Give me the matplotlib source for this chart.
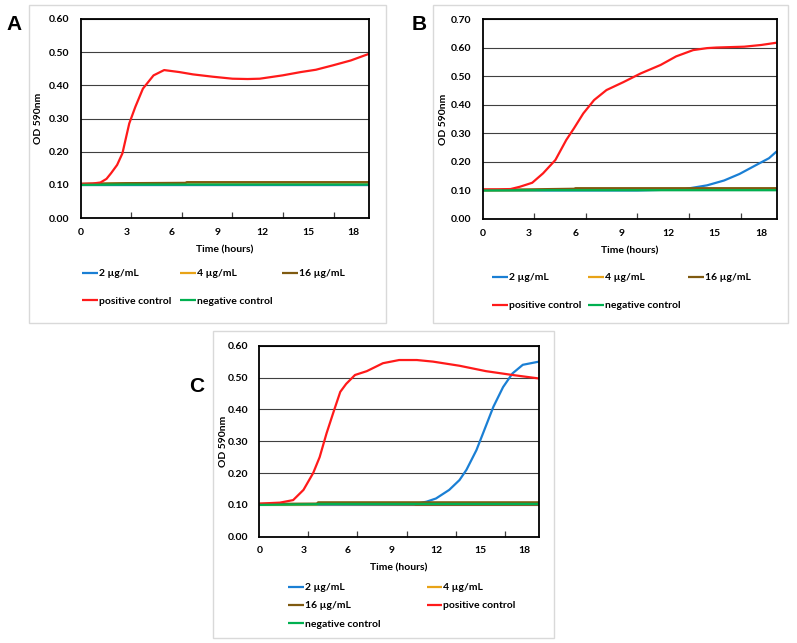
import matplotlib
matplotlib.use("Agg")
import matplotlib.pyplot as plt
from matplotlib.patches import Rectangle
import numpy as np

plt.rcParams["font.family"] = ["Lato", "DejaVu Sans"]
plt.rcParams["font.weight"] = "bold"

LABELS = ["2 \u00b5g/mL", "4 \u00b5g/mL", "16 \u00b5g/mL", "positive control", "negative control"]
COLORS = ["#1a7fd4", "#e8a317", "#7f5a10", "#ff1a1a", "#00b050"]

# ---- panel A ----
a_pos_t = [0, 0.8, 1.3, 1.7, 2.0, 2.4, 2.75, 3.2, 3.6, 4.1, 4.8, 5.5, 6.5, 7.4, 8.7, 10.0, 11.0, 11.8, 13.3, 14.5, 15.5, 16.6, 17.8, 19.0]
a_pos_y = [0.103, 0.104, 0.107, 0.118, 0.135, 0.16, 0.195, 0.285, 0.335, 0.39, 0.43, 0.446, 0.44, 0.433, 0.426, 0.42, 0.419, 0.42, 0.43, 0.44, 0.447, 0.46, 0.475, 0.495]
a_t = [0, 3, 6.9, 7.0, 12, 19]
a_2 = [0.100, 0.100, 0.100, 0.100, 0.100, 0.100]
a_4 = [0.102, 0.104, 0.105, 0.107, 0.107, 0.107]
a_16 = [0.103, 0.105, 0.106, 0.108, 0.108, 0.108]
a_neg = [0.100, 0.101, 0.101, 0.101, 0.101, 0.101]

# ---- panel B ----
b_pos_t = [0, 1.0, 1.8, 2.4, 3.2, 3.9, 4.7, 5.4, 5.9, 6.5, 7.2, 8.0, 9.1, 10.2, 11.5, 12.5, 13.6, 14.5, 15.1, 16.9, 18.0, 19.0]
b_pos_y = [0.104, 0.104, 0.105, 0.113, 0.127, 0.16, 0.207, 0.277, 0.318, 0.37, 0.417, 0.452, 0.48, 0.51, 0.54, 0.57, 0.592, 0.599, 0.601, 0.604, 0.61, 0.618]
b_2_t = [0, 5, 10, 13.0, 13.4, 14.5, 15.6, 16.6, 17.7, 18.5, 19.0]
b_2_y = [0.100, 0.100, 0.100, 0.104, 0.108, 0.118, 0.135, 0.158, 0.19, 0.213, 0.237]
b_t = [0, 3.2, 5.9, 6.0, 12, 19]
b_4 = [0.100, 0.101, 0.104, 0.105, 0.105, 0.105]
b_16 = [0.102, 0.104, 0.106, 0.108, 0.108, 0.108]
b_neg = [0.100, 0.101, 0.101, 0.101, 0.101, 0.101]

# ---- panel C ----
c_pos_t = [0, 1.4, 2.3, 3.0, 3.66, 4.1, 4.57, 5.1, 5.5, 5.9, 6.5, 7.3, 8.4, 9.5, 10.7, 11.8, 13.6, 15.4, 17.2, 19.0]
c_pos_y = [0.104, 0.107, 0.115, 0.147, 0.2, 0.25, 0.325, 0.4, 0.455, 0.48, 0.508, 0.52, 0.545, 0.555, 0.555, 0.55, 0.537, 0.52, 0.508, 0.497]
c_2_t = [0, 5, 10.5, 11.36, 12.0, 12.9, 13.6, 14.07, 14.75, 15.2, 15.9, 16.56, 17.2, 17.9, 19.0]
c_2_y = [0.100, 0.100, 0.102, 0.11, 0.12, 0.147, 0.178, 0.21, 0.272, 0.325, 0.408, 0.47, 0.513, 0.54, 0.55]
c_t = [0, 3.9, 4.0, 12, 19]
c_4 = [0.100, 0.101, 0.102, 0.102, 0.102]
c_16 = [0.103, 0.104, 0.108, 0.108, 0.108]
c_neg = [0.100, 0.102, 0.103, 0.103, 0.103]

X_LABELS = [0, 3, 6, 9, 12, 15, 18]
X_TICKS = [3.33, 6.67, 10.0, 13.33, 16.67]

W, H = 797, 643
fig = plt.figure(figsize=(W / 100, H / 100), dpi=100)


def fx(px):
    return px / W


def fy(py):
    return 1 - py / H


# panel frames
for x0, y0, x1, y1 in [(29, 5, 386, 323), (433, 5, 788, 323), (213, 331, 554, 638)]:
    fig.add_artist(Rectangle((fx(x0), fy(y1)), fx(x1) - fx(x0), fy(y0) - fy(y1),
                             transform=fig.transFigure, fill=False, ec="#d9d9d9", lw=1.0))


def panel(rect, series, ymax, letter, letter_xy, ylab_x, leg_xy, ncol, order, leg_space):
    l, t, r, b = rect
    ax = fig.add_axes([fx(l), fy(b), fx(r) - fx(l), fy(t) - fy(b)])
    handles = []
    for (tt, yy), lab, col in zip(series, LABELS, COLORS):
        h, = ax.plot(tt, yy, color=col, lw=1.6, label=lab, solid_capstyle="butt")
        handles.append(h)
    ax.set_xlim(0, 19)
    ax.set_ylim(0, ymax)
    yt = np.arange(0, ymax + 0.001, 0.1)
    ax.set_yticks(yt)
    ax.set_yticklabels([f"{v:.2f}" for v in yt], fontsize=7.5, fontweight="bold")
    ax.tick_params(axis="y", length=0, pad=8)
    ax.yaxis.grid(True, color="#404040", lw=0.8)
    ax.set_axisbelow(True)
    ax.set_xticks(X_TICKS)
    ax.set_xticklabels([])
    ax.tick_params(axis="x", which="major", direction="in", length=4, width=0.9, color="#404040")
    ax.set_xticks(X_LABELS, minor=True)
    ax.set_xticklabels([str(v) for v in X_LABELS], minor=True, fontsize=7.5, fontweight="bold")
    ax.tick_params(axis="x", which="minor", length=0, pad=7)
    for s in ax.spines.values():
        s.set_color("black")
        s.set_linewidth(1.3)
    ax.set_xlabel("Time (hours)", fontsize=7.5, fontweight="bold", labelpad=6)
    ax.set_ylabel("OD 590nm", fontsize=7.5, fontweight="bold")
    ax.yaxis.set_label_coords((fx(ylab_x) - fx(l)) / (fx(r) - fx(l)), 0.5)
    fig.text(fx(letter_xy[0]), fy(letter_xy[1]), letter, fontsize=15, fontweight="bold",
             family=["Liberation Sans", "DejaVu Sans"], ha="center", va="center")
    hs = [handles[i] for i in order]
    ls = [LABELS[i] for i in order]
    fig.legend(hs, ls, loc="upper left", bbox_to_anchor=(fx(leg_xy[0]), fy(leg_xy[1])),
               ncol=ncol, frameon=False, handlelength=1.5, handletextpad=0.1,
               columnspacing=leg_space[0], labelspacing=leg_space[1], borderaxespad=0,
               borderpad=0, prop={"weight": "bold", "size": 7.5})
    return ax


panel((80.7, 19, 369, 218),
      [(a_t, a_2), (a_t, a_4), (a_t, a_16), (a_pos_t, a_pos_y), (a_t, a_neg)],
      0.6, "A", (14, 25), 43, (82, 269), 3, [0, 3, 1, 4, 2], (0.9, 1.75))

panel((482.7, 19.3, 776.7, 219),
      [(b_2_t, b_2_y), (b_t, b_4), (b_t, b_16), (b_pos_t, b_pos_y), (b_t, b_neg)],
      0.7, "B", (419, 24), 448, (492, 273), 3, [0, 3, 1, 4, 2], (0.7, 1.8))

panel((259.3, 345.7, 539, 536.7),
      [(c_2_t, c_2_y), (c_t, c_4), (c_t, c_16), (c_pos_t, c_pos_y), (c_t, c_neg)],
      0.6, "C", (197, 386), 228, (288, 583), 2, [0, 2, 4, 1, 3], (4.45, 0.85))

fig.savefig("out.png", dpi=100)
